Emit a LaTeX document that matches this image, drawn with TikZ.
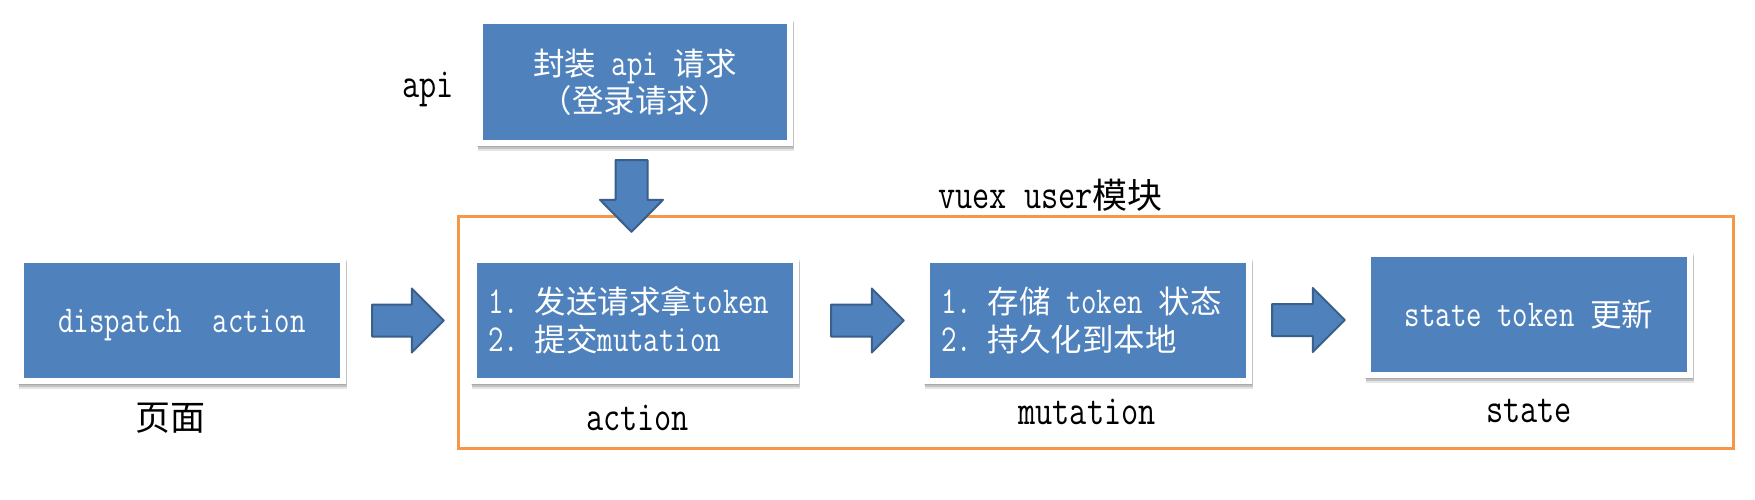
\documentclass[tikz,border=0pt]{standalone}
\usepackage{fontspec}
\setmainfont{Latin Modern Mono}[FakeStretch=0.79]
\newfontfamily\cjk{Noto Sans CJK SC}[Scale=0.829]
\usetikzlibrary{shadows,calc}
\definecolor{boxblue}{HTML}{4F81BD}
\definecolor{arrowline}{HTML}{3A5F8B}
\definecolor{vorange}{HTML}{F79646}
\frenchspacing
\tikzset{
 bluebox/.style={rectangle, fill=white, draw=none, inner sep=0pt,
   minimum width=328pt, minimum height=127pt,
   path picture={\fill[boxblue] ($(path picture bounding box.south west)+(6,-6)$) rectangle ($(path picture bounding box.north east)+(-6,6)$);},
   drop shadow={shadow xshift=0pt, shadow yshift=-1pt, fill=black, opacity=0.12},
   drop shadow={shadow xshift=0.5pt, shadow yshift=-3pt, fill=black, opacity=0.15},
   drop shadow={shadow xshift=1pt, shadow yshift=-5pt, fill=black, opacity=0.10}},
 boxtext/.style={text=white, inner sep=0pt, font=\fontsize{38}{46}\selectfont},
 labeltext/.style={text=black, inner sep=0pt, font=\fontsize{42.2}{50}\selectfont},
 blockarr/.style={fill=boxblue, draw=arrowline, line width=2pt, line join=round},
 vuexbox/.style={rectangle, draw=vorange, line width=3pt, inner sep=0pt}
}
\newcommand\blockR[2]{%
  \path (#1) coordinate (bt) (#2) coordinate (bp);
  \draw[blockarr] ($(bt)+(0,-16)$) -- ($(bt -| bp)+(-32,-16)$) -- ($(bt -| bp)+(-32,-32)$)
    -- (bt -| bp) -- ($(bt -| bp)+(-32,32)$) -- ($(bt -| bp)+(-32,16)$) -- ($(bt)+(0,16)$) -- cycle;}
\newcommand\blockD[2]{%
  \path (#1) coordinate (bt) (#2) coordinate (bp);
  \draw[blockarr] ($(bt)+(-16,0)$) -- ($(bt |- bp)+(-16,-32)$) -- ($(bt |- bp)+(-31.5,-32)$)
    -- (bt |- bp) -- ($(bt |- bp)+(31.5,-32)$) -- ($(bt |- bp)+(16,-32)$) -- ($(bt)+(16,0)$) -- cycle;}
\begin{document}
\begin{tikzpicture}[x=1pt,y=-1pt]
\useasboundingbox[fill=white] (0,0) rectangle (1755,499);

% vuex module frame
\node[vuexbox, minimum width=1274.5pt, minimum height=231.5pt] (vuex) at (1095.75,332.25) {};
\node[labeltext, anchor=base west] (vuexlbl) at (938,208) {vuex user{\cjk 模块}};

% api box
\node[bluebox, minimum width=316pt, minimum height=128pt] (api) at (635,82) {};
\node[boxtext, anchor=base] (apit1) at (635,75) {{\cjk 封装} api {\cjk 请求}};
\node[boxtext, anchor=base] (apit2) at (635,112.5) {{\cjk （登录请求）}};
\node[labeltext, anchor=base west] (apilbl) at (402,97) {api};

% page box
\node[bluebox] (disp) at (182,320.5) {};
\node[boxtext, anchor=base] (dispt) at (182,332) {dispatch\ \ action};
\node[labeltext, anchor=base] (displbl) at (170,430) {\cjk 页面};

% action box
\node[bluebox] (act) at (635,320.5) {};
\node[boxtext, anchor=base west] (actt1) at (488,313) {1.\ {\cjk 发送请求拿}token};
\node[boxtext, anchor=base west] (actt2) at (488,351.5) {2.\ {\cjk 提交}mutation};
\node[labeltext, anchor=base] (actlbl) at (637.5,430) {action};

% mutation box
\node[bluebox] (mut) at (1088,320.5) {};
\node[boxtext, anchor=base west] (mutt1) at (941,313) {1.\ {\cjk 存储} token {\cjk 状态}};
\node[boxtext, anchor=base west] (mutt2) at (941,351.5) {2.\ {\cjk 持久化到本地}};
\node[labeltext, anchor=base] (mutlbl) at (1087,424) {mutation};

% state box
\node[bluebox] (st) at (1529,314.5) {};
\node[boxtext, anchor=base] (stt) at (1529,326) {state token {\cjk 更新}};
\node[labeltext, anchor=base] (stlbl) at (1529,422) {state};

% block arrows
\blockD{$(api.south)+(-3.5,14)$}{$(act.north)+(0,-25)$}
\blockR{$(disp.east)+(26,0)$}{$(act.west)+(-27,0)$}
\blockR{$(act.east)+(32,0)$}{$(mut.west)+(-20,0)$}
\blockR{$(mut.east)+(20,-0.5)$}{$(st.west)+(-20,0)$}
\end{tikzpicture}
\end{document}
